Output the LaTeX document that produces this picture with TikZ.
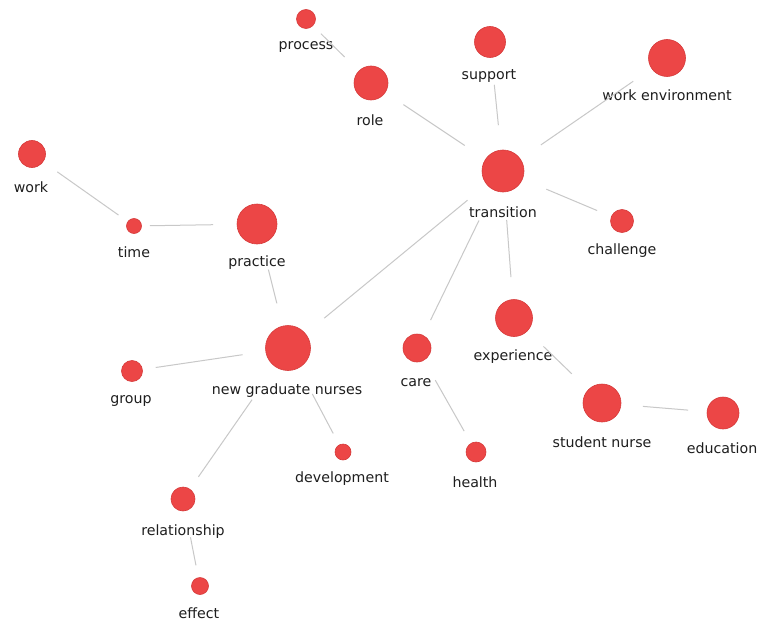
\documentclass[tikz,border=0pt]{standalone}
\usepackage{fontspec}
\setmainfont{DejaVu Sans}
\definecolor{nodered}{RGB}{236,70,70}
\definecolor{noderim}{RGB}{214,58,58}
\definecolor{edgegray}{RGB}{200,200,200}
\definecolor{txt}{RGB}{30,30,30}
\begin{document}
\begin{tikzpicture}[x=1pt,y=-1pt,
  term/.style={circle,fill=nodered,draw=noderim,line width=0.6pt,inner sep=0pt,minimum size=#1},
  lbl/.style={text=txt,font=\fontsize{14.2}{16}\selectfont,inner sep=0pt},
  link/.style={draw=edgegray,line width=1pt}]
\useasboundingbox[fill=white] (0,0) rectangle (757,623);
% circles
\node[term=19pt] (process) at (306,19) {};
\node[term=34pt] (role) at (371,83) {};
\node[term=31pt] (support) at (490,42) {};
\node[term=37pt] (workenv) at (667,58) {};
\node[term=42pt] (transition) at (503,171) {};
\node[term=23pt] (challenge) at (622,221) {};
\node[term=27pt] (work) at (32,154) {};
\node[term=15pt] (time) at (134,226) {};
\node[term=40pt] (practice) at (257,224) {};
\node[term=21pt] (group) at (132,371) {};
\node[term=45pt] (ngn) at (288,348) {};
\node[term=28pt] (care) at (417,348) {};
\node[term=16pt] (development) at (343,452) {};
\node[term=20pt] (health) at (476,452) {};
\node[term=24pt] (relationship) at (183,499) {};
\node[term=17pt] (effect) at (200,586) {};
\node[term=37pt] (experience) at (514,318) {};
\node[term=38pt] (student) at (602,403) {};
\node[term=32pt] (education) at (723,413) {};
% labels
\node[lbl] (process-l) at (306,47) {process};
\node[lbl] (role-l) at (370,120) {role};
\node[lbl] (support-l) at (489,76) {support};
\node[lbl] (workenv-l) at (667,95) {work environment};
\node[lbl] (transition-l) at (503,212) {transition};
\node[lbl] (challenge-l) at (622,251) {challenge};
\node[lbl] (work-l) at (31,187) {work};
\node[lbl] (time-l) at (134,252) {time};
\node[lbl] (practice-l) at (257,263) {practice};
\node[lbl] (group-l) at (131,401) {group};
\node[lbl] (ngn-l) at (287,391) {new graduate nurses};
\node[lbl] (care-l) at (416,383) {care};
\node[lbl] (development-l) at (342,479) {development};
\node[lbl] (health-l) at (475,482) {health};
\node[lbl] (relationship-l) at (183,532) {relationship};
\node[lbl] (effect-l) at (199,613) {effect};
\node[lbl] (experience-l) at (513,357) {experience};
\node[lbl] (student-l) at (602,442) {student nurse};
\node[lbl] (education-l) at (722,448) {education};
% connectors
\draw[link,shorten <=21pt,shorten >=37pt] (process.center) -- (role.center);
\draw[link,shorten <=39pt,shorten >=46pt] (role.center) -- (transition.center);
\draw[link,shorten <=43pt,shorten >=46pt] (support.center) -- (transition.center);
\draw[link,shorten <=41pt,shorten >=46pt] (workenv.center) -- (transition.center);
\draw[link,shorten <=27pt,shorten >=47pt] (challenge.center) -- (transition.center);
\draw[link,shorten <=47pt,shorten >=46pt] (ngn.center) -- (transition.center);
\draw[link,shorten <=55pt,shorten >=31pt] (transition.center) -- (care.center);
\draw[link,shorten <=49pt,shorten >=41pt] (transition.center) -- (experience.center);
\draw[link,shorten <=31pt,shorten >=19pt] (work.center) -- (time.center);
\draw[link,shorten <=16pt,shorten >=44pt] (time.center) -- (practice.center);
\draw[link,shorten <=47pt,shorten >=46pt] (practice.center) -- (ngn.center);
\draw[link,shorten <=24pt,shorten >=46pt] (group.center) -- (ngn.center);
\draw[link,shorten <=63pt,shorten >=27pt] (ngn.center) -- (relationship.center);
\draw[link,shorten <=52pt,shorten >=21pt] (ngn.center) -- (development.center);
\draw[link,shorten <=39pt,shorten >=21pt] (relationship.center) -- (effect.center);
\draw[link,shorten <=37pt,shorten >=24pt] (care.center) -- (health.center);
\draw[link,shorten <=41pt,shorten >=42pt] (experience.center) -- (student.center);
\draw[link,shorten <=41pt,shorten >=35pt] (student.center) -- (education.center);
\end{tikzpicture}
\end{document}
